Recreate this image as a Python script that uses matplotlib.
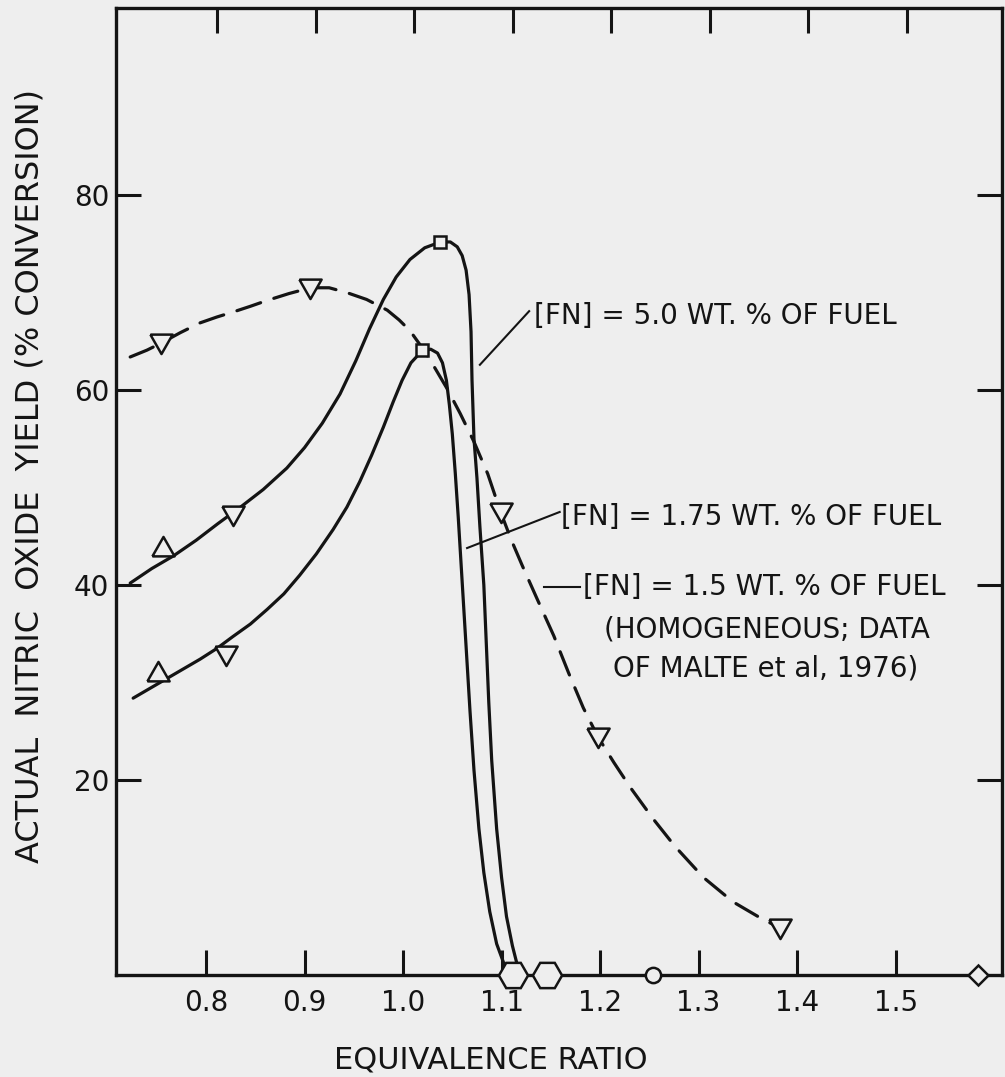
import matplotlib
matplotlib.use("Agg")
import matplotlib.pyplot as plt

BG = "#eeeeee"
INK = "#141414"

plt.rcParams["font.family"] = ["DejaVu Sans"]
plt.rcParams["lines.scale_dashes"] = False

# [FN] = 5.0 wt.% of fuel (upper solid curve)
fn50_x = [0.723, 0.745, 0.767, 0.790, 0.812, 0.835, 0.858, 0.882, 0.900, 0.918,
          0.936, 0.952, 0.966, 0.980, 0.993, 1.007, 1.022, 1.038, 1.048, 1.055,
          1.060, 1.064, 1.067, 1.069, 1.070, 1.072, 1.075, 1.078, 1.082, 1.087,
          1.090, 1.095, 1.100, 1.105, 1.111, 1.116]
fn50_y = [40.2, 41.7, 43.0, 44.6, 46.3, 48.0, 49.8, 52.0, 54.1, 56.6,
          59.6, 63.0, 66.3, 69.3, 71.6, 73.4, 74.6, 75.2, 75.2, 74.7,
          73.8, 72.3, 69.8, 66.0, 61.0, 55.0, 51.0, 46.0, 40.0, 28.0,
          22.0, 15.0, 10.0, 6.0, 3.0, 1.0]
fn50_tri_up = ([0.756], [43.9])
fn50_tri_dn = ([0.827], [47.2])
fn50_sq = ([1.038], [75.2])

# [FN] = 1.75 wt.% of fuel (lower solid curve)
fn175_x = [0.726, 0.743, 0.760, 0.777, 0.794, 0.811, 0.827, 0.845, 0.862, 0.879,
           0.895, 0.912, 0.929, 0.943, 0.956, 0.968, 0.980, 0.990, 0.999, 1.008,
           1.019, 1.028, 1.035, 1.040, 1.044, 1.047, 1.050, 1.053, 1.056, 1.059,
           1.062, 1.065, 1.068, 1.072, 1.077, 1.082, 1.088, 1.095, 1.103]
fn175_y = [28.4, 29.4, 30.4, 31.4, 32.4, 33.5, 34.7, 36.0, 37.5, 39.1,
           41.0, 43.2, 45.7, 48.0, 50.6, 53.3, 56.2, 58.8, 61.0, 62.8,
           64.0, 64.2, 63.8, 62.8, 61.0, 58.5, 55.5, 51.5, 47.0, 42.0,
           37.0, 32.0, 27.0, 21.0, 15.0, 10.5, 6.5, 3.2, 1.0]
fn175_tri_up = ([0.751], [31.1])
fn175_tri_dn = ([0.820], [32.8])
fn175_sq = ([1.019], [64.1])

# [FN] = 1.5 wt.% homogeneous, Malte et al 1976 (dashed curve)
malte_x = [0.723, 0.740, 0.754, 0.774, 0.794, 0.811, 0.827, 0.845, 0.862, 0.884,
           0.906, 0.925, 0.943, 0.963, 0.984, 0.996, 1.007, 1.019, 1.031, 1.045,
           1.058, 1.072, 1.086, 1.099, 1.110, 1.121, 1.136, 1.153, 1.168, 1.183,
           1.198, 1.214, 1.231, 1.254, 1.276, 1.305, 1.335, 1.362, 1.383]
malte_y = [63.4, 64.1, 64.8, 65.9, 66.9, 67.5, 68.0, 68.6, 69.2, 69.9,
           70.5, 70.5, 70.0, 69.3, 68.2, 67.2, 66.1, 64.4, 62.5, 60.1,
           57.6, 54.7, 51.4, 47.5, 44.6, 42.0, 38.6, 34.8, 31.0, 27.4,
           24.4, 21.8, 19.2, 16.0, 13.2, 10.0, 7.5, 5.9, 4.8]
malte_pts_x = [0.754, 0.906, 1.099, 1.198, 1.383]
malte_pts_y = [64.8, 70.5, 47.5, 24.4, 4.8]

# zero-yield points on the axis
hex_x = [1.112, 1.146]
circ_x = [1.254]
diam_x = [1.584]

x_ticks = [0.8, 0.9, 1.0, 1.1, 1.2, 1.3, 1.4, 1.5]
x_ticklabels = ["0.8", "0.9", "1.0", "1.1", "1.2", "1.3", "1.4", "1.5"]
y_ticks = [20, 40, 60, 80]

fig = plt.figure(figsize=(10.05, 10.77), dpi=100, facecolor=BG)
ax = fig.add_axes([116 / 1005, 1 - 975 / 1077, 886 / 1005, 967 / 1077])
ax.set_facecolor(BG)
ax.set_xlim(0.7086, 1.608)
ax.set_ylim(0, 99.2)

lw = 2.3
line = dict(color=INK, lw=lw, zorder=3, solid_joinstyle="round", solid_capstyle="round")
ax.plot(fn50_x, fn50_y, **line)
ax.plot(fn175_x, fn175_y, **line)
ax.plot(malte_x, malte_y, color=INK, lw=lw, zorder=3, dashes=(18, 10),
        dash_capstyle="round", dash_joinstyle="round")

tri_dn = [(-1, 0.8), (1, 0.8), (0, -0.95), (-1, 0.8)]
tri_up = [(-1, -0.8), (1, -0.8), (0, 0.95), (-1, -0.8)]
mk = dict(color="none", markerfacecolor=BG, markeredgecolor=INK, markeredgewidth=1.8, zorder=4)

ax.plot(*fn50_tri_up, marker=tri_up, ms=16, **mk)
ax.plot(*fn50_tri_dn, marker=tri_dn, ms=16, **mk)
ax.plot(*fn50_sq, marker="s", ms=9, **mk)
ax.plot(*fn175_tri_up, marker=tri_up, ms=16, **mk)
ax.plot(*fn175_tri_dn, marker=tri_dn, ms=16, **mk)
ax.plot(*fn175_sq, marker="s", ms=9, **mk)
ax.plot(malte_pts_x, malte_pts_y, marker=tri_dn, ms=16, **mk)

on_axis = {**mk, "zorder": 6}
ax.plot(hex_x, [0] * len(hex_x), marker="H", ms=21, clip_on=False, **on_axis)
ax.plot(circ_x, [0] * len(circ_x), marker="o", ms=11, clip_on=False, **on_axis)
ax.plot(diam_x, [0] * len(diam_x), marker="D", ms=10, clip_on=False, **on_axis)

# frame and ticks
for s in ax.spines.values():
    s.set_linewidth(2.4)
    s.set_color(INK)
ax.set_xticks(x_ticks)
ax.set_xticklabels(x_ticklabels)
ax.set_yticks(y_ticks)
ax.tick_params(axis="both", direction="in", length=18, width=2.2, color=INK,
               labelsize=20, labelcolor=INK)
ax.tick_params(axis="x", pad=10)
ax.tick_params(axis="y", pad=5, right=True)

# top ticks are drawn slightly offset on the original sheet
top = ax.twiny()
top.set_xlim(0.6974, 1.5968)
top.set_xticks(x_ticks)
top.set_xticklabels([])
top.tick_params(axis="x", direction="in", length=18, width=2.2, color=INK)
for s in top.spines.values():
    s.set_visible(False)

fig.text(491 / 1005, 1 - 1060 / 1077, "EQUIVALENCE RATIO", ha="center", va="center",
         fontsize=22, color=INK)
fig.text(30 / 1005, 1 - 476 / 1077, "ACTUAL  NITRIC  OXIDE  YIELD (% CONVERSION)",
         rotation=90, ha="center", va="center", fontsize=23, color=INK)

# curve labels with leader lines
txt = dict(fontsize=20, color=INK, va="center", ha="left")
ax.text(1.133, 67.6, "[FN] = 5.0 WT. % OF FUEL", **txt)
ax.plot([1.078, 1.128], [62.6, 68.1], color=INK, lw=1.5, zorder=3)
ax.text(1.160, 47.0, "[FN] = 1.75 WT. % OF FUEL", **txt)
ax.plot([1.065, 1.159], [43.8, 47.5], color=INK, lw=1.5, zorder=3)
ax.text(1.183, 39.8, "[FN] = 1.5 WT. % OF FUEL", **txt)
ax.plot([1.143, 1.180], [39.8, 39.8], color=INK, lw=1.5, zorder=3)
ax.text(1.204, 35.4, "(HOMOGENEOUS; DATA", **txt)
ax.text(1.213, 31.4, "OF MALTE et al, 1976)", **txt)

fig.savefig("out.png", dpi=100, facecolor=BG)
